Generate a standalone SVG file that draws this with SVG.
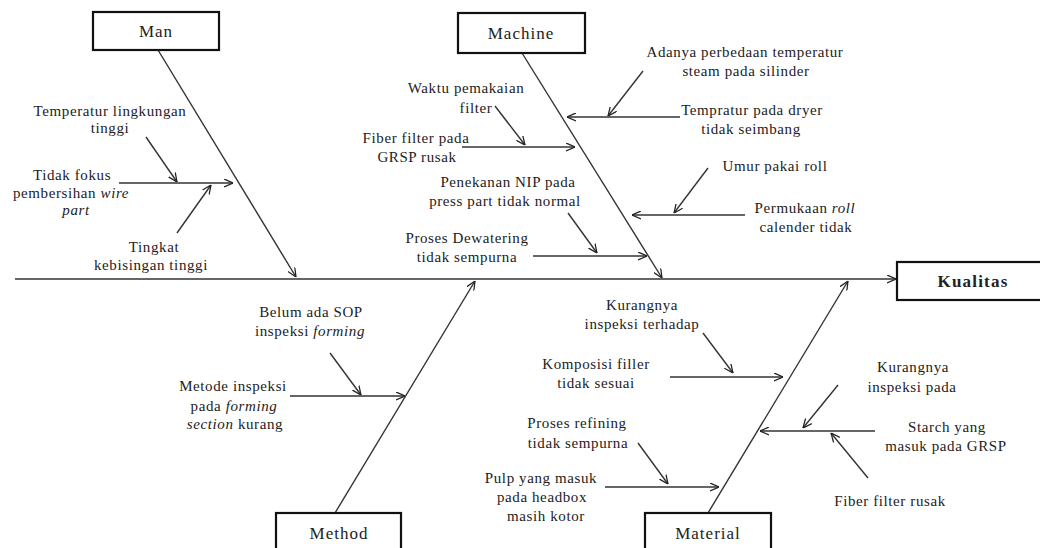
<svg xmlns="http://www.w3.org/2000/svg" width="1040" height="548" viewBox="0 0 1040 548">
<defs>
<marker id="ah" viewBox="0 0 10 10" refX="10" refY="5" markerWidth="9" markerHeight="9" markerUnits="userSpaceOnUse" orient="auto">
<path d="M0,0.5 L10,5 L0,9.5" fill="none" stroke="#222" stroke-width="1.4"/>
</marker>
</defs>
<style>
.bx{fill:#fff;stroke:#111;stroke-width:2.2}
.bl{font-family:"Liberation Serif",serif;font-size:17px;letter-spacing:1px;fill:#222;text-anchor:middle}
.kb{font-family:"Liberation Serif",serif;font-size:17px;font-weight:bold;letter-spacing:1.2px;fill:#222;text-anchor:middle}
.t{font-family:"Liberation Serif",serif;font-size:15px;letter-spacing:0.6px;fill:#222;text-anchor:middle}
.c line{stroke:#333;stroke-width:1.4;marker-end:url(#ah)}
.it{font-style:italic}
</style>
<rect width="1040" height="548" fill="#fff"/>
<g id="connectors" class="c">
<line x1="15" y1="279" x2="896" y2="279"/>
<line x1="158" y1="50" x2="296" y2="277"/>
<line x1="522" y1="53" x2="662" y2="278"/>
<line x1="335" y1="513" x2="475" y2="281"/>
<line x1="708" y1="513" x2="848" y2="281"/>
<line x1="119" y1="183" x2="233" y2="183"/>
<line x1="146" y1="137" x2="177" y2="182"/>
<line x1="177" y1="233" x2="211" y2="185"/>
<line x1="462" y1="147" x2="575" y2="147"/>
<line x1="495" y1="106" x2="525" y2="145"/>
<line x1="533" y1="256" x2="647" y2="256"/>
<line x1="568" y1="213" x2="597" y2="253"/>
<line x1="680" y1="117" x2="567" y2="117"/>
<line x1="643" y1="71" x2="608" y2="116"/>
<line x1="745" y1="215" x2="632" y2="215"/>
<line x1="708" y1="168" x2="674" y2="213"/>
<line x1="290" y1="396" x2="405" y2="396"/>
<line x1="330" y1="353" x2="361" y2="395"/>
<line x1="670" y1="377" x2="783" y2="377"/>
<line x1="703" y1="333" x2="733" y2="373"/>
<line x1="605" y1="487" x2="719" y2="487"/>
<line x1="638" y1="443" x2="668" y2="484"/>
<line x1="875" y1="431" x2="760" y2="431"/>
<line x1="838" y1="385" x2="803" y2="428"/>
<line x1="868" y1="478" x2="831" y2="433"/>
</g>
<g id="man">
<rect class="bx" x="93" y="12" width="126" height="38"/>
<text class="bl" x="156" y="37">Man</text>
</g>
<g id="machine">
<rect class="bx" x="458" y="13" width="127" height="40"/>
<text class="bl" x="521" y="39">Machine</text>
</g>
<g id="method">
<rect class="bx" x="276" y="513" width="125" height="45"/>
<text class="bl" x="339" y="539">Method</text>
</g>
<g id="material">
<rect class="bx" x="645" y="513" width="126" height="45"/>
<text class="bl" x="708" y="539">Material</text>
</g>
<g id="kualitas">
<rect class="bx" x="897" y="262" width="150" height="38"/>
<text class="kb" x="973" y="287">Kualitas</text>
</g>
<g id="man-causes">
<text class="t" x="110" y="116">Temperatur lingkungan</text>
<text class="t" x="110" y="133">tinggi</text>
<text class="t" x="72" y="180">Tidak fokus</text>
<text class="t" x="71" y="198">pembersihan <tspan class="it">wire</tspan></text>
<text class="t" x="76" y="215"><tspan class="it">part</tspan></text>
<text class="t" x="154" y="252">Tingkat</text>
<text class="t" x="151" y="270">kebisingan tinggi</text>
</g>
<g id="machine-causes">
<text class="t" x="466" y="93">Waktu pemakaian</text>
<text class="t" x="476" y="113">filter</text>
<text class="t" x="416" y="143">Fiber filter pada</text>
<text class="t" x="417" y="162">GRSP rusak</text>
<text class="t" x="508" y="187">Penekanan NIP pada</text>
<text class="t" x="505" y="206">press part tidak normal</text>
<text class="t" x="467" y="243">Proses Dewatering</text>
<text class="t" x="467" y="262">tidak sempurna</text>
<text class="t" x="745" y="57">Adanya perbedaan temperatur</text>
<text class="t" x="746" y="76">steam pada silinder</text>
<text class="t" x="752" y="115">Tempratur pada dryer</text>
<text class="t" x="751" y="134">tidak seimbang</text>
<text class="t" x="775" y="171">Umur pakai roll</text>
<text class="t" x="805" y="213">Permukaan <tspan class="it">roll</tspan></text>
<text class="t" x="806" y="232">calender tidak</text>
</g>
<g id="method-causes">
<text class="t" x="311" y="317">Belum ada SOP</text>
<text class="t" x="310" y="336">inspeksi <tspan class="it">forming</tspan></text>
<text class="t" x="233" y="391">Metode inspeksi</text>
<text class="t" x="234" y="411">pada <tspan class="it">forming</tspan></text>
<text class="t" x="235" y="429"><tspan class="it">section</tspan> kurang</text>
</g>
<g id="material-causes">
<text class="t" x="642" y="310">Kurangnya</text>
<text class="t" x="642" y="329">inspeksi terhadap</text>
<text class="t" x="596" y="369">Komposisi filler</text>
<text class="t" x="596" y="388">tidak sesuai</text>
<text class="t" x="577" y="428">Proses refining</text>
<text class="t" x="578" y="448">tidak sempurna</text>
<text class="t" x="541" y="483">Pulp yang masuk</text>
<text class="t" x="542" y="502">pada headbox</text>
<text class="t" x="546" y="521">masih kotor</text>
<text class="t" x="913" y="372">Kurangnya</text>
<text class="t" x="912" y="392">inspeksi pada</text>
<text class="t" x="947" y="432">Starch yang</text>
<text class="t" x="946" y="451">masuk pada GRSP</text>
<text class="t" x="890" y="506">Fiber filter rusak</text>
</g>
</svg>
